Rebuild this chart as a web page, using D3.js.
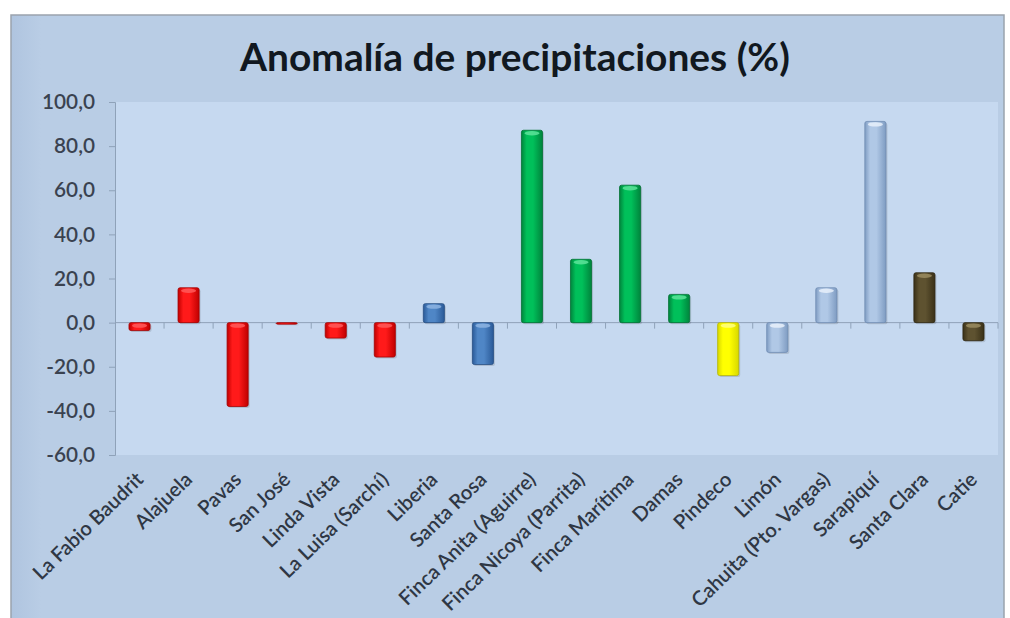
<!DOCTYPE html>
<html><head><meta charset="utf-8">
<script src="https://cdn.jsdelivr.net/npm/d3@7"></script>
<style>
html,body{margin:0;padding:0;background:#fff;}
svg{display:block;}
text{font-family:Lato,"Open Sans",sans-serif;}
</style></head>
<body>
<svg id="c" width="1010" height="618"></svg>
<script>
const categories = ["La Fabio Baudrit","Alajuela","Pavas","San José","Linda Vista","La Luisa (Sarchí)","Liberia","Santa Rosa","Finca Anita (Aguirre)","Finca Nicoya (Parrita)","Finca Marítima","Damas","Pindeco","Limón","Cahuita (Pto. Vargas)","Sarapiquí","Santa Clara","Catie"];
const values = [-3.6, 15.8, -38.0, -0.5, -7.0, -15.6, 8.6, -19.0, 87.2, 28.7, 62.3, 12.8, -24.0, -13.5, 15.8, 91.2, 22.6, -8.2];
const regions = ["vc","vc","vc","vc","vc","vc","pn","pn","pc","pc","pc","pc","ps","ca","ca","ca","nt","nt"];
const yTicks = [100,80,60,40,20,0,-20,-40,-60];
const title = "Anomalía de precipitaciones (%)";

const palette = {
  vc:{edge:"#c00000",mid:"#ff1a1a",light:"#ff5a5a",stroke:"#a30000"},
  pn:{edge:"#2a5a98",mid:"#4f86c6",light:"#8db4e2",stroke:"#244d82"},
  pc:{edge:"#00843c",mid:"#00c05a",light:"#5de39a",stroke:"#007032"},
  ps:{edge:"#d8d800",mid:"#ffff00",light:"#ffff80",stroke:"#b5b500"},
  ca:{edge:"#7f9cc2",mid:"#b0c8e6",light:"#e8f0fa",stroke:"#6f8cb3"},
  nt:{edge:"#3a3118",mid:"#5e5230",light:"#9a8c60",stroke:"#2e2712"}
};

const svg = d3.select("#c");
const defs = svg.append("defs");

function fitFont(sel, target){
  const w = sel.node().getComputedTextLength();
  const fs = parseFloat(sel.attr("font-size"));
  return fs * target / w;
}

const og = defs.append("linearGradient").attr("id","outer").attr("x1",0).attr("x2",1).attr("y1",0).attr("y2",0);
og.append("stop").attr("offset","0").attr("stop-color","#afc4df");
og.append("stop").attr("offset","0.03").attr("stop-color","#b9cde5");
og.append("stop").attr("offset","1").attr("stop-color","#b9cde5");

Object.entries(palette).forEach(([k,p])=>{
  const g = defs.append("linearGradient").attr("id","g_"+k).attr("x1",0).attr("x2",1).attr("y1",0).attr("y2",0);
  g.append("stop").attr("offset","0").attr("stop-color",p.edge);
  g.append("stop").attr("offset","0.25").attr("stop-color",p.mid);
  g.append("stop").attr("offset","0.55").attr("stop-color",p.mid);
  g.append("stop").attr("offset","1").attr("stop-color",p.edge);
});

svg.append("rect").attr("x",11).attr("y",15).attr("width",1010-11-6).attr("height",618-15+5)
  .attr("fill","url(#outer)").attr("stroke","#9aa3ad").attr("stroke-width",1.5);

const x = d3.scaleBand().domain(categories).range([115,998]).paddingInner(0.57).paddingOuter(0.285);
const y = d3.scaleLinear().domain([-60,100]).range([455,102]);

svg.append("rect").attr("x",115).attr("y",102).attr("width",998-115).attr("height",455-102).attr("fill","#c6d9f0");

const probe = svg.append("text").attr("font-size",16).attr("font-weight",600).text("100,0");
const yFs = fitFont(probe, 53);
probe.attr("font-size",16).text("La Fabio Baudrit");
const xFs = fitFont(probe, 144);
probe.remove();

const yAxis = d3.axisLeft(y).tickValues(yTicks).tickSize(6).tickPadding(14)
  .tickFormat(d=>d3.format(".1f")(d).replace(".",",").replace("−","-"));
const ga = svg.append("g").attr("transform","translate(115,0)").call(yAxis);
ga.select(".domain").attr("stroke","#8fa2b9");
ga.selectAll(".tick line").attr("stroke","#8fa2b9");
ga.selectAll(".tick text").attr("fill","#3a4250").attr("font-size",yFs).attr("font-weight",600).attr("font-family","Lato");

const tt = svg.append("text").attr("x",515).attr("y",71).attr("text-anchor","middle")
  .attr("font-size",33).attr("font-weight",700).attr("fill","#111820").text(title);
tt.attr("font-size", fitFont(tt, 550));

const bounds = d3.range(categories.length+1).map(i=>115 + i*(998-115)/categories.length);
svg.append("line").attr("x1",115).attr("x2",998).attr("y1",y(0)).attr("y2",y(0)).attr("stroke","#8fa2b9").attr("stroke-width",1);
svg.selectAll("line.bt").data(bounds.slice(1)).join("line").attr("class","bt")
  .attr("x1",d=>d).attr("x2",d=>d).attr("y1",y(0)).attr("y2",y(0)+6).attr("stroke","#8fa2b9");

const bars = svg.append("g");
categories.forEach((c,i)=>{
  const v = values[i], p = palette[regions[i]];
  const x0 = x(c), w = x.bandwidth();
  const y0 = Math.min(y(v), y(0)), h = Math.abs(y(v)-y(0));
  bars.append("rect").attr("x",x0+1.5).attr("y",y0+1.5).attr("width",w).attr("height",Math.max(h,1))
    .attr("fill","#000").attr("opacity",0.12).attr("rx",2);
  bars.append("rect").attr("x",x0).attr("y",y0).attr("width",w).attr("height",Math.max(h,1.5))
    .attr("fill","url(#g_"+regions[i]+")").attr("stroke",p.stroke).attr("stroke-width",0.8).attr("rx",2);
  const capY = v>=0 ? y(v)+3 : y(0)+3;
  if (h>5) bars.append("ellipse").attr("cx",x0+w/2).attr("cy",capY).attr("rx",w/2-3).attr("ry",2.2)
    .attr("fill",p.light).attr("opacity",0.85);
});

svg.append("g").selectAll("text").data(categories).join("text")
  .attr("transform",d=>`translate(${x(d)+x.bandwidth()/2+5},${481}) rotate(-44)`)
  .attr("text-anchor","end").attr("font-size",xFs).attr("font-weight",600).attr("fill","#2f3744")
  .text(d=>d);
</script>
</body></html>
